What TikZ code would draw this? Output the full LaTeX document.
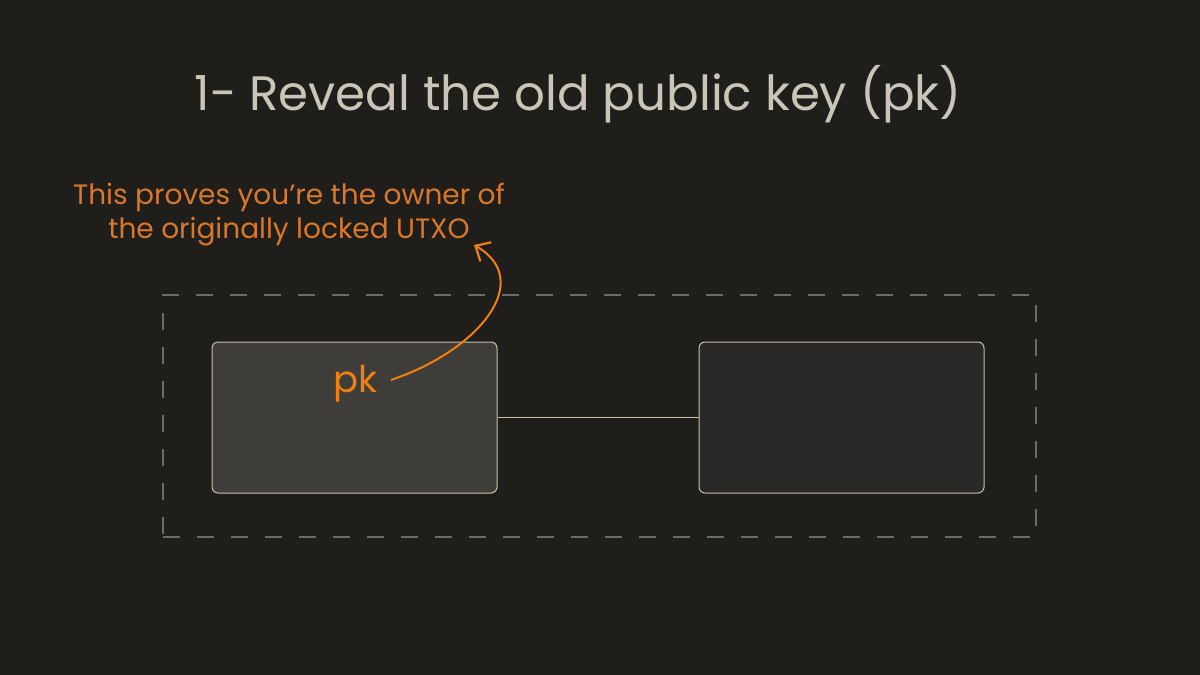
\documentclass[tikz,border=0pt]{standalone}
\usepackage{fontspec}
\setmainfont{Poppins}
\usetikzlibrary{arrows.meta}
\definecolor{bgDark}{HTML}{1F1E1B}
\definecolor{titleGrey}{HTML}{C9C5B8}
\definecolor{noteOrange}{HTML}{D9782A}
\definecolor{keyOrange}{HTML}{F07F12}
\definecolor{boxEdge}{HTML}{C8BFA8}
\definecolor{keyFill}{HTML}{3F3D39}
\definecolor{otherFill}{HTML}{2A2927}
\definecolor{frameGrey}{HTML}{6B6A66}

\begin{document}
\begin{tikzpicture}[x=1pt, y=-1pt]
        \tikzstyle{boxStyle} = [draw=boxEdge, line width=1, rounded corners=6,
            minimum width=285, minimum height=151, inner sep=0]
        \tikzstyle{frameStyle} = [draw=frameGrey, line width=1.2, dash pattern=on 17 off 17]
        \tikzstyle{noteArrow} = [draw=keyOrange, line width=2, shorten <=10,
            -{Straight Barb[length=12, width=22, line width=2.2]}]
        \fill[bgDark] (0,0) rectangle (1200,675);
        \useasboundingbox (0,0) rectangle (1200,675);
        \node[text=titleGrey, font=\fontsize{48.3}{56}\selectfont, anchor=base] (title) at (578,110) {1- Reveal the old public key (pk)};
        \node[text=noteOrange, font=\fontsize{28}{34}\selectfont, align=center, anchor=base] (note) at (289,238)
            {This proves you’re the owner of\\the originally locked UTXO};
        \node[frameStyle, minimum width=873, minimum height=242, inner sep=0] (frame) at (599.5,416) {};
        \node[boxStyle, fill=keyFill] (keybox) at (354.5,417.5) {};
        \node[boxStyle, fill=otherFill] (otherbox) at (841.5,417.5) {};
        \node[text=keyOrange, font=\fontsize{37}{40}\selectfont, anchor=base] (pk) at (356,392) {pk};
        \coordinate (tip) at (474,245);
        \path[draw=boxEdge, line width=1] (keybox) edge (otherbox);
        \draw[noteArrow] (pk.east) .. controls (480,350) and (535,280) .. (tip);
    \end{tikzpicture}
\end{document}
